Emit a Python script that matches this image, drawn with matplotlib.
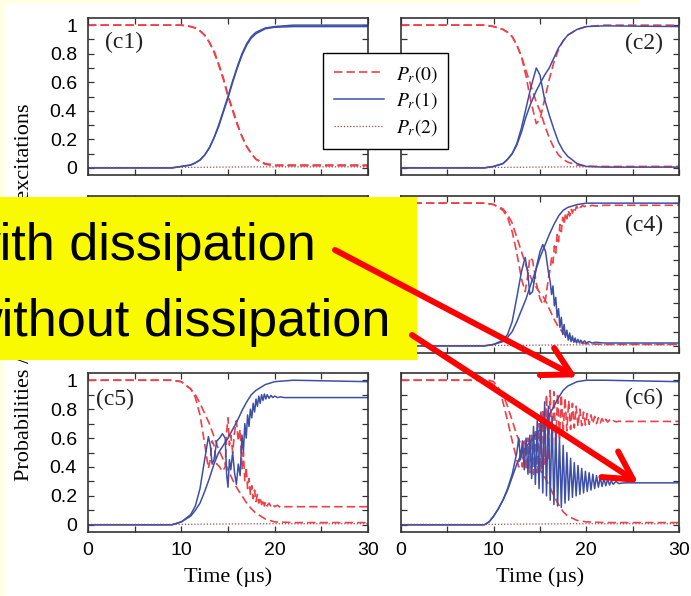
import matplotlib
matplotlib.use("Agg")
import matplotlib.pyplot as plt
from matplotlib.patches import Rectangle, ConnectionPatch
from matplotlib.ticker import MultipleLocator, FuncFormatter

# ---------------- data ----------------
# (c1) -- both runs nearly identical
c1_t = [0, 9, 10, 11, 11.5, 12, 12.5, 13, 13.5, 14, 14.5, 15, 15.5, 16, 16.5, 17, 17.5, 18, 19, 20, 22, 30]
c1_p0_a = [1.0, 1.0, 1.0, 0.99, 0.98, 0.96, 0.93, 0.88, 0.81, 0.72, 0.62, 0.5, 0.4, 0.3, 0.22, 0.15, 0.1, 0.06, 0.025, 0.015, 0.015, 0.015]
c1_p0_b = [1.0, 1.0, 1.0, 0.99, 0.98, 0.96, 0.93, 0.88, 0.82, 0.73, 0.63, 0.51, 0.41, 0.31, 0.22, 0.15, 0.1, 0.06, 0.03, 0.02, 0.02, 0.02]
c1_p1_a = [0.0, 0.0, 0.01, 0.02, 0.035, 0.055, 0.09, 0.14, 0.21, 0.3, 0.4, 0.5, 0.61, 0.71, 0.8, 0.87, 0.92, 0.95, 0.98, 0.99, 1.0, 1.0]
c1_p1_b = [0.0, 0.0, 0.01, 0.02, 0.035, 0.055, 0.09, 0.14, 0.21, 0.29, 0.39, 0.49, 0.6, 0.7, 0.79, 0.86, 0.91, 0.94, 0.975, 0.985, 0.99, 0.99]

# (c2)
c2_t = [0, 9, 10, 11, 11.5, 12, 12.5, 13, 13.5, 14, 14.6, 15, 15.5, 16, 16.5, 17, 17.5, 18, 19, 20, 22, 30]
c2_p0_dip = [1, 1, 0.99, 0.97, 0.95, 0.92, 0.86, 0.78, 0.64, 0.47, 0.31, 0.34, 0.48, 0.62, 0.74, 0.83, 0.89, 0.93, 0.97, 0.99, 1.0, 1.0]
c2_p0_mono = [1, 1, 0.99, 0.97, 0.95, 0.92, 0.86, 0.78, 0.68, 0.58, 0.46, 0.4, 0.3, 0.21, 0.14, 0.09, 0.06, 0.04, 0.02, 0.012, 0.01, 0.01]
c2_p1_rise = [0, 0, 0.01, 0.03, 0.06, 0.1, 0.16, 0.25, 0.36, 0.45, 0.54, 0.59, 0.65, 0.7, 0.77, 0.84, 0.89, 0.93, 0.97, 0.99, 0.995, 0.99]
c2_p1_peak = [0, 0, 0.01, 0.03, 0.06, 0.1, 0.17, 0.28, 0.42, 0.56, 0.7, 0.65, 0.48, 0.37, 0.27, 0.18, 0.12, 0.08, 0.03, 0.01, 0.005, 0.005]

# (c4)
c4_ts = [0, 9, 10, 11, 11.5, 12, 12.5, 13, 13.5, 14, 14.5, 15, 15.5, 16, 16.5, 17, 17.5, 18, 19, 20, 22, 30]
c4_p1_s = [0, 0, 0.01, 0.03, 0.06, 0.1, 0.17, 0.25, 0.33, 0.43, 0.52, 0.62, 0.7, 0.78, 0.85, 0.91, 0.95, 0.97, 0.99, 1.0, 1.0, 1.0]
c4_p0_m = [1, 1, 0.99, 0.96, 0.92, 0.86, 0.76, 0.66, 0.56, 0.48, 0.42, 0.37, 0.33, 0.26, 0.19, 0.13, 0.09, 0.06, 0.025, 0.015, 0.01, 0.01]
c4_to = [0, 9, 10, 11, 11.5, 12, 12.5, 13,
         13.4, 13.7, 13.9, 14.2, 14.6, 15, 15.3, 15.6, 15.9,
         16.1, 16.25, 16.4, 16.55, 16.7, 16.85, 17.0, 17.15, 17.3, 17.45,
         17.6, 17.75, 17.9, 18.05, 18.2, 18.35, 18.5, 18.65, 18.8, 18.95,
         19.1, 19.25, 19.4, 19.6, 19.8, 20.0, 20.3, 20.6, 21, 22, 30]
c4_p1_o = [0, 0, 0.01, 0.04, 0.08, 0.17, 0.34, 0.52,
           0.62, 0.5, 0.36, 0.38, 0.55, 0.66, 0.71, 0.66, 0.52,
           0.45, 0.36, 0.42, 0.28, 0.34, 0.2, 0.26, 0.13, 0.2, 0.08,
           0.15, 0.06, 0.11, 0.04, 0.09, 0.03, 0.07, 0.025, 0.055, 0.02,
           0.045, 0.02, 0.04, 0.02, 0.035, 0.02, 0.03, 0.02, 0.025, 0.02, 0.02]
c4_p0_o = [1, 1, 0.99, 0.95, 0.9, 0.8, 0.65, 0.47,
           0.38, 0.5, 0.62, 0.6, 0.44, 0.33, 0.29, 0.33, 0.47,
           0.54, 0.62, 0.58, 0.7, 0.65, 0.78, 0.73, 0.85, 0.8, 0.9,
           0.85, 0.93, 0.89, 0.95, 0.91, 0.96, 0.93, 0.97, 0.95, 0.98,
           0.96, 0.98, 0.97, 0.985, 0.975, 0.985, 0.978, 0.985, 0.98, 0.985, 0.985]

# (c5)
c5_ts = [0, 9, 10, 11, 11.5, 12, 12.5, 13, 13.5, 14, 14.5, 15, 15.5, 16, 16.5, 17, 17.5, 18, 19, 20, 22, 30]
c5_p1_s = [0, 0, 0.02, 0.06, 0.1, 0.15, 0.23, 0.32, 0.42, 0.5, 0.55, 0.6, 0.66, 0.72, 0.79, 0.85, 0.9, 0.93, 0.97, 0.99, 1.0, 0.99]
c5_p0_m = [1, 1, 0.99, 0.94, 0.9, 0.84, 0.77, 0.7, 0.61, 0.52, 0.45, 0.38, 0.31, 0.25, 0.2, 0.15, 0.11, 0.08, 0.04, 0.02, 0.015, 0.015]
c5_to = [0, 9, 10, 11, 11.5, 12, 12.5,
         12.9, 13.1, 13.3, 13.5, 13.8, 14.1, 14.4, 14.7,
         14.85, 15.0, 15.15, 15.3, 15.5, 15.7, 15.9, 16.1, 16.3,
         16.5, 16.65, 16.8, 16.95, 17.1, 17.25, 17.4, 17.55, 17.7, 17.85,
         18.0, 18.15, 18.3, 18.45, 18.6, 18.75, 18.9, 19.05, 19.2,
         19.4, 19.6, 19.8, 20.0, 20.3, 20.6, 21, 30]
c5_p1_o = [0, 0, 0.02, 0.07, 0.13, 0.25, 0.45,
           0.61, 0.55, 0.42, 0.45, 0.58, 0.6, 0.63, 0.6,
           0.35, 0.26, 0.45, 0.38, 0.5, 0.36, 0.28, 0.42, 0.34,
           0.62, 0.5, 0.7, 0.6, 0.76, 0.68, 0.8, 0.74, 0.84, 0.78,
           0.87, 0.82, 0.89, 0.84, 0.9, 0.86, 0.905, 0.87, 0.9,
           0.875, 0.895, 0.88, 0.89, 0.88, 0.885, 0.88, 0.88]
c5_p0_o = [1, 1, 0.99, 0.94, 0.88, 0.76, 0.56,
           0.39, 0.45, 0.58, 0.55, 0.42, 0.4, 0.37, 0.4,
           0.64, 0.74, 0.55, 0.62, 0.5, 0.64, 0.72, 0.58, 0.66,
           0.38, 0.5, 0.3, 0.4, 0.25, 0.32, 0.21, 0.27, 0.18, 0.24,
           0.16, 0.21, 0.15, 0.19, 0.14, 0.175, 0.13, 0.16, 0.13,
           0.15, 0.125, 0.14, 0.125, 0.135, 0.12, 0.125, 0.125]

# (c6)
c6_ts = [0, 9, 9.5, 10, 10.5, 11, 11.5, 12, 12.5, 13, 13.5, 14, 14.5, 15, 15.5, 16, 16.5, 17, 17.5, 18, 19, 20, 22, 30]
c6_p1_s = [0, 0, 0.02, 0.06, 0.11, 0.17, 0.24, 0.33, 0.42, 0.49, 0.54, 0.58, 0.62, 0.66, 0.7, 0.76, 0.82, 0.88, 0.93, 0.96, 0.99, 1.0, 1.0, 0.99]
c6_p0_m = [1, 1, 0.99, 0.97, 0.94, 0.9, 0.82, 0.72, 0.62, 0.55, 0.5, 0.46, 0.42, 0.38, 0.33, 0.27, 0.2, 0.14, 0.09, 0.06, 0.03, 0.02, 0.015, 0.015]
c6_to = [0, 9, 9.5, 10, 10.5, 11, 11.5, 12, 12.5,
         12.7, 12.9, 13.1, 13.3, 13.5, 13.7, 13.9, 14.1, 14.3, 14.5,
         14.7, 14.9, 15.1, 15.3, 15.5, 15.7, 15.9, 16.1, 16.3, 16.5,
         16.7, 16.9, 17.1, 17.3, 17.5, 17.7, 17.9, 18.1, 18.3, 18.5,
         18.7, 18.9, 19.1, 19.3, 19.5, 19.7, 19.9, 20.1, 20.3, 20.5,
         20.7, 20.9, 21.1, 21.3, 21.5, 21.7, 21.9, 22.1, 22.3, 22.5,
         22.7, 22.9, 23.2, 23.5, 24, 30]
c6_p1_o = [0, 0, 0.02, 0.06, 0.11, 0.17, 0.25, 0.35, 0.5,
           0.6, 0.45, 0.58, 0.38, 0.6, 0.35, 0.62, 0.32, 0.68, 0.28,
           0.72, 0.25, 0.78, 0.22, 0.85, 0.2, 0.82, 0.17, 0.75, 0.14,
           0.66, 0.13, 0.6, 0.12, 0.55, 0.15, 0.5, 0.17, 0.46, 0.19,
           0.43, 0.2, 0.41, 0.21, 0.39, 0.22, 0.37, 0.23, 0.36, 0.24,
           0.35, 0.25, 0.34, 0.26, 0.33, 0.265, 0.32, 0.27, 0.315, 0.275,
           0.305, 0.28, 0.3, 0.285, 0.29, 0.29]
c6_p0_o = [1, 1, 1, 0.99, 0.95, 0.85, 0.72, 0.58, 0.45,
           0.4, 0.52, 0.4, 0.58, 0.38, 0.6, 0.36, 0.62, 0.35, 0.66,
           0.36, 0.7, 0.38, 0.8, 0.42, 0.9, 0.45, 0.93, 0.5, 0.92,
           0.55, 0.91, 0.6, 0.9, 0.63, 0.88, 0.65, 0.86, 0.66, 0.84,
           0.67, 0.82, 0.68, 0.8, 0.685, 0.78, 0.69, 0.77, 0.695, 0.76,
           0.7, 0.75, 0.7, 0.74, 0.705, 0.735, 0.705, 0.73, 0.71, 0.725,
           0.71, 0.72, 0.712, 0.716, 0.715, 0.715]

# P_r(2) stays close to zero everywhere
p2_t = [0, 10, 14, 18, 30]
p2 = [0.003, 0.003, 0.005, 0.007, 0.007]

legend_labels = [r"$P_r(0)$", r"$P_r(1)$", r"$P_r(2)$"]
panel_names = ["(c1)", "(c2)", "(c3)", "(c4)", "(c5)", "(c6)"]

# ---------------- styling ----------------
plt.rcParams["font.family"] = "Liberation Sans"
plt.rcParams["mathtext.fontset"] = "stix"

RED = "#ee4048"
BLUE = "#3d4fa6"
DOT = "#a04a4a"
SERIF = "Liberation Serif"

W, H = 691, 596
fig = plt.figure(figsize=(W / 100, H / 100), dpi=100)

# pale border of the screenshot
fig.add_artist(Rectangle((0, 0), 5 / W, 1, transform=fig.transFigure,
                         facecolor="#ffffe4", edgecolor="none", zorder=-1))
fig.add_artist(Rectangle((0, 1 - 4 / H), 640 / W, 4 / H, transform=fig.transFigure,
                         facecolor="#ffffe4", edgecolor="none", zorder=-1))


def pix_box(l, t, r, b):
    return [l / W, 1 - b / H, (r - l) / W, (b - t) / H]


boxes = [(88, 18, 368, 175), (401, 18, 679, 175),
         (88, 196, 368, 353), (401, 196, 679, 353),
         (88, 373, 368, 532), (401, 373, 679, 532)]
axs = [fig.add_axes(pix_box(*b)) for b in boxes]

fmt = FuncFormatter(lambda v, p: f"{round(v, 2):g}")

for i, ax in enumerate(axs):
    ax.set_xlim(0, 30)
    ax.set_ylim(-0.05, 1.05)
    ax.xaxis.set_major_locator(MultipleLocator(10))
    ax.xaxis.set_minor_locator(MultipleLocator(5))
    ax.yaxis.set_major_locator(MultipleLocator(0.2))
    ax.yaxis.set_minor_locator(MultipleLocator(0.1))
    ax.yaxis.set_major_formatter(fmt)
    ax.tick_params(which="both", direction="in", top=True, right=True,
                   length=4, width=0.9, color="#333333")
    ax.tick_params(axis="y", labelsize=14, pad=8)
    ax.tick_params(axis="x", labelsize=14, pad=7)
    for s in ax.spines.values():
        s.set_linewidth(1.2)
        s.set_color("#333333")
    if i % 2 == 1:
        ax.tick_params(labelleft=False)
    if i < 4:
        ax.tick_params(labelbottom=False)
    else:
        ax.set_xlabel("Time (µs)", family=SERIF, fontsize=16, labelpad=6)


def draw(ax, p0_sets, p1_sets):
    h = []
    for t, v in p0_sets:
        h.append(ax.plot(t, v, color=RED, lw=1.2, ls=(0, (5, 2.5)))[0])
    for t, v in p1_sets:
        h.append(ax.plot(t, v, color=BLUE, lw=1.1)[0])
    h.append(ax.plot(p2_t, p2, color=DOT, lw=0.9, ls=(0, (1, 1.5)))[0])
    return h


h1 = draw(axs[0], [(c1_t, c1_p0_a), (c1_t, c1_p0_b)], [(c1_t, c1_p1_a), (c1_t, c1_p1_b)])
draw(axs[1], [(c2_t, c2_p0_dip), (c2_t, c2_p0_mono)], [(c2_t, c2_p1_rise), (c2_t, c2_p1_peak)])
# (c3) lies under the yellow box; it reuses the (c1) readings
draw(axs[2], [(c1_t, c1_p0_a), (c1_t, c1_p0_b)], [(c1_t, c1_p1_a), (c1_t, c1_p1_b)])
draw(axs[3], [(c4_ts, c4_p0_m), (c4_to, c4_p0_o)], [(c4_ts, c4_p1_s), (c4_to, c4_p1_o)])
draw(axs[4], [(c5_ts, c5_p0_m), (c5_to, c5_p0_o)], [(c5_ts, c5_p1_s), (c5_to, c5_p1_o)])
draw(axs[5], [(c6_ts, c6_p0_m), (c6_to, c6_p0_o)], [(c6_ts, c6_p1_s), (c6_to, c6_p1_o)])

# panel labels
label_pos = [(0.06, 0.847, "left"), (0.942, 0.84, "right"), (0.06, 0.84, "left"),
             (0.942, 0.815, "right"), (0.03, 0.835, "left"), (0.942, 0.84, "right")]
for ax, name, (x, y, ha) in zip(axs, panel_names, label_pos):
    ax.text(x, y, name, transform=ax.transAxes, ha=ha, va="center",
            family=SERIF, fontsize=17, color="#222222")

fig.text(25 / W, 1 - 292 / H, "Probabilities / mean number of excitations",
         rotation=90, ha="center", va="center", family=SERIF, fontsize=16)

leg = fig.legend([h1[0], h1[2], h1[4]], legend_labels, loc="upper left",
                 bbox_to_anchor=(323 / W, 1 - 53 / H), frameon=True, fancybox=False,
                 edgecolor="black", framealpha=1, fontsize=14, handlelength=2.6,
                 labelspacing=0.3, borderpad=0.55, handletextpad=0.6, borderaxespad=0)
leg.get_frame().set_linewidth(1.0)

# yellow overlay with the two captions
fig.add_artist(Rectangle((0, 1 - 360 / H), 417 / W, (360 - 197) / H, transform=fig.transFigure,
                         facecolor="#f9f900", edgecolor="none", zorder=10))
fig.text(316 / W, 1 - 260 / H, "with dissipation", ha="right", va="baseline",
         fontsize=37.5, family="Liberation Sans", zorder=11)
fig.text(390 / W, 1 - 336 / H, "without dissipation", ha="right", va="baseline",
         fontsize=37.5, family="Liberation Sans", zorder=11)

arrow_style = "->,head_length=1.0,head_width=0.55"
for start, tip in [((335 / W, 1 - 250 / H), (19.0, 1.02)),
                   ((412 / W, 1 - 335 / H), (25.6, 0.29))]:
    con = ConnectionPatch(xyA=start, coordsA="figure fraction", xyB=tip, coordsB="data",
                          axesB=axs[5], arrowstyle=arrow_style, mutation_scale=20,
                          color="red", lw=4.3, zorder=12)
    fig.add_artist(con)

fig.savefig("out.png", dpi=100)
